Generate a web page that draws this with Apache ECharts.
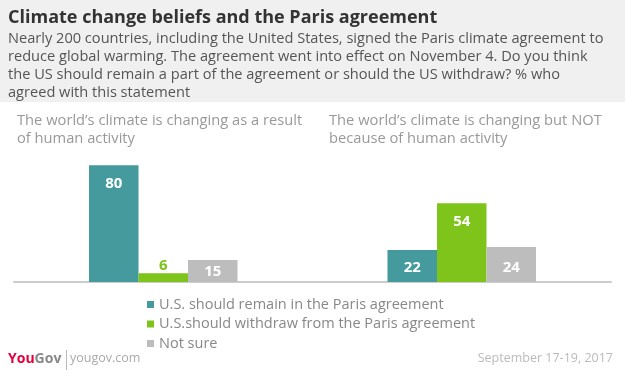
<!DOCTYPE html>
<html>
<head>
<meta charset="utf-8">
<script src="https://cdn.jsdelivr.net/npm/echarts@6/dist/echarts.min.js"></script>
<style>
  html, body { margin: 0; padding: 0; background: #fff; }
  #chart { width: 625px; height: 376px; }
</style>
</head>
<body>
<div id="chart"></div>
<script>
// 数据
const categories = ['human', 'notHuman'];
const categoryTitles = [
  'The world\u2019s climate is changing as a result\nof human activity',
  'The world\u2019s climate is changing but NOT\nbecause of human activity'
];
const seriesNames = [
  'U.S. should remain in the Paris agreement',
  'U.S.should withdraw from the Paris agreement',
  'Not sure'
];
const remainValues = [80, 22];
const withdrawValues = [6, 54];
const notSureValues = [15, 24];

const colors = ['#449a9c', '#7ec41a', '#bdbdbd'];
const FONT = '"Open Sans", Lato, sans-serif';

// 标签位置：高柱子放顶部内侧，矮柱子放底部内侧，很小的放在柱子上方
function makeData(values, color) {
  return values.map(v => {
    if (v < 10) {
      return { value: v, label: { position: 'top', distance: 0, color: color } };
    }
    if (v < 20) {
      return { value: v, label: { position: 'insideBottom', distance: 3 } };
    }
    if (v < 40) {
      return { value: v, label: { position: 'insideBottom', distance: 7 } };
    }
    return { value: v, label: { position: 'insideTop', distance: 11 } };
  });
}

const allValues = [remainValues, withdrawValues, notSureValues];

const chart = echarts.init(document.getElementById('chart'));

const option = {
  backgroundColor: '#fff',
  animation: false,
  textStyle: { fontFamily: FONT },
  title: {
    text: 'Climate change beliefs and the Paris agreement',
    subtext: 'Nearly 200 countries, including the United States, signed the Paris climate agreement to\nreduce global warming. The agreement went into effect on November 4. Do you think\nthe US should remain a part of the agreement or should the US withdraw? % who\nagreed with this statement',
    left: 3,
    top: 4,
    itemGap: 3,
    textStyle: { fontFamily: FONT, fontSize: 18, fontWeight: 'bold', color: '#333' },
    subtextStyle: { fontFamily: FONT, fontSize: 14.6, color: '#555', lineHeight: 18 }
  },
  legend: {
    orient: 'vertical',
    left: 147,
    top: 297,
    padding: 0,
    itemWidth: 7,
    itemHeight: 7,
    itemGap: 4.5,
    icon: 'rect',
    textStyle: { fontFamily: FONT, fontSize: 14.5, color: '#888', lineHeight: 14 },
    data: seriesNames
  },
  grid: { left: 14, right: 14, top: 136, bottom: 376 - 282 },
  xAxis: {
    type: 'category',
    data: categories,
    axisLine: { lineStyle: { color: '#cccccc', width: 2 } },
    axisTick: { show: false },
    axisLabel: { show: false }
  },
  yAxis: {
    type: 'value',
    min: 0,
    max: 100,
    show: false,
    splitLine: { show: false }
  },
  series: seriesNames.map((name, i) => ({
    name: name,
    type: 'bar',
    barWidth: 49.5,
    barGap: '0%',
    itemStyle: { color: colors[i] },
    label: {
      show: true,
      fontFamily: FONT,
      fontSize: 15,
      fontWeight: 'bold',
      color: '#fff'
    },
    data: makeData(allValues[i], colors[i])
  })),
  graphic: [
    { type: 'rect', left: 0, top: 0, z: -10, shape: { width: 625, height: 102 }, style: { fill: '#f0f0f0' } },
    { type: 'text', left: 17, top: 112, style: { text: categoryTitles[0], font: '14.7px ' + FONT, fill: '#999', lineHeight: 18 } },
    { type: 'text', left: 329, top: 112, style: { text: categoryTitles[1], font: '14.7px ' + FONT, fill: '#999', lineHeight: 18 } },
    {
      type: 'text', left: 8, top: 352,
      style: {
        text: '{a|You}{b|Gov}',
        rich: {
          a: { fontFamily: FONT, fontSize: 14, fontWeight: 'bold', fill: '#e4003b' },
          b: { fontFamily: FONT, fontSize: 14, fontWeight: 'bold', fill: '#888' }
        }
      }
    },
    { type: 'rect', left: 66, top: 350, shape: { width: 1, height: 20 }, style: { fill: '#bbb' } },
    { type: 'text', left: 70, top: 352, style: { text: 'yougov.com', font: '12.5px ' + FONT, fill: '#aaa' } },
    { type: 'text', right: 12, top: 352, style: { text: 'September 17-19, 2017', font: '12.5px ' + FONT, fill: '#bbb' } }
  ]
};

chart.setOption(option);
</script>
</body>
</html>
